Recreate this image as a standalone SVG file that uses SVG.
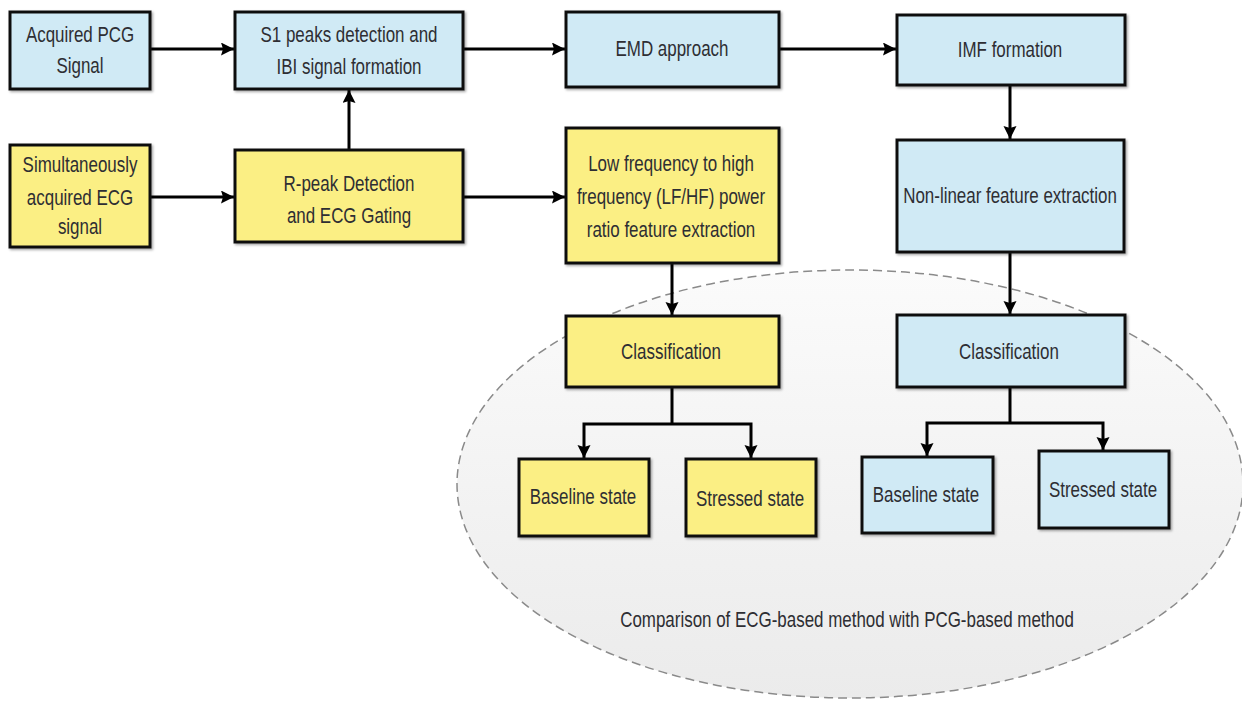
<svg xmlns="http://www.w3.org/2000/svg" width="1242" height="701" viewBox="0 0 1242 701">
<style>
.box{stroke:#111;stroke-width:3}
.blue{fill:#d0eaf5}
.yel{fill:#fbef84}
text{font-family:"Liberation Sans",Arial,sans-serif;font-size:22px;fill:#2e2e33;text-anchor:middle}
.con{stroke:#000;stroke-width:3;fill:none}
</style>
<defs>
<marker id="ah" markerUnits="userSpaceOnUse" markerWidth="16" markerHeight="14" refX="13" refY="6.5" orient="auto">
<path d="M0,0 L13,6.5 L0,13 L2,6.5 z" fill="#000"/>
</marker>
<linearGradient id="eg" x1="0" y1="0" x2="0" y2="1">
<stop offset="0" stop-color="#fbfbfb"/>
<stop offset="1" stop-color="#ebebeb"/>
</linearGradient>
<filter id="sh" x="-10%" y="-10%" width="130%" height="130%">
<feDropShadow dx="1.5" dy="1.5" stdDeviation="1" flood-color="#000" flood-opacity="0.35"/>
</filter>
</defs>
<rect width="1242" height="701" fill="#fff"/>
<g id="comparison-region">
<ellipse cx="850" cy="484" rx="393" ry="214" fill="url(#eg)" stroke="#8a8a8a" stroke-width="1.5" stroke-dasharray="9,5"/>
<text transform="translate(847,627) scale(0.77,1)">Comparison of ECG-based method with PCG-based method</text>
</g>
<g id="connectors">
<line class="con" x1="150" y1="49" x2="234" y2="49" marker-end="url(#ah)"/>
<line class="con" x1="150" y1="197" x2="234" y2="197" marker-end="url(#ah)"/>
<line class="con" x1="349" y1="150" x2="349" y2="90" marker-end="url(#ah)"/>
<line class="con" x1="463" y1="49" x2="565" y2="49" marker-end="url(#ah)"/>
<line class="con" x1="779" y1="49" x2="896" y2="49" marker-end="url(#ah)"/>
<line class="con" x1="463" y1="197" x2="565" y2="197" marker-end="url(#ah)"/>
<line class="con" x1="1010" y1="85" x2="1010" y2="139" marker-end="url(#ah)"/>
<line class="con" x1="672" y1="263" x2="672" y2="315" marker-end="url(#ah)"/>
<line class="con" x1="1010" y1="252" x2="1010" y2="314" marker-end="url(#ah)"/>
<path class="con" d="M672,387 V424"/>
<path class="con" d="M672,424 H584 V458" marker-end="url(#ah)"/>
<path class="con" d="M672,424 H751 V458" marker-end="url(#ah)"/>
<path class="con" d="M1010,387 V423"/>
<path class="con" d="M1010,423 H927 V456" marker-end="url(#ah)"/>
<path class="con" d="M1010,423 H1103 V450" marker-end="url(#ah)"/>
</g>
<g id="acquired-pcg">
<rect class="box blue" x="10" y="12" width="140" height="77" filter="url(#sh)"/>
<text transform="translate(80,42) scale(0.77,1)">Acquired PCG</text>
<text transform="translate(80,73) scale(0.77,1)">Signal</text>
</g>
<g id="s1-peaks">
<rect class="box blue" x="235" y="12" width="228" height="77" filter="url(#sh)"/>
<text transform="translate(349,42) scale(0.77,1)">S1 peaks detection and</text>
<text transform="translate(349,74) scale(0.77,1)">IBI signal formation</text>
</g>
<g id="ecg-acquired">
<rect class="box yel" x="10" y="145" width="140" height="102" filter="url(#sh)"/>
<text transform="translate(80,172) scale(0.77,1)">Simultaneously</text>
<text transform="translate(80,205) scale(0.77,1)">acquired ECG</text>
<text transform="translate(80,234) scale(0.77,1)">signal</text>
</g>
<g id="r-peak">
<rect class="box yel" x="235" y="150" width="228" height="92" filter="url(#sh)"/>
<text transform="translate(349,191) scale(0.77,1)">R-peak Detection</text>
<text transform="translate(349,223) scale(0.77,1)">and ECG Gating</text>
</g>
<g id="emd">
<rect class="box blue" x="566" y="12" width="213" height="75" filter="url(#sh)"/>
<text transform="translate(672,56) scale(0.77,1)">EMD approach</text>
</g>
<g id="lfhf">
<rect class="box yel" x="566" y="128" width="213" height="135" filter="url(#sh)"/>
<text transform="translate(671,171) scale(0.77,1)">Low frequency to high</text>
<text transform="translate(671,204) scale(0.77,1)">frequency (LF/HF) power</text>
<text transform="translate(671,237) scale(0.77,1)">ratio feature extraction</text>
</g>
<g id="imf">
<rect class="box blue" x="897" y="15" width="228" height="70" filter="url(#sh)"/>
<text transform="translate(1010,57) scale(0.77,1)">IMF formation</text>
</g>
<g id="nonlinear">
<rect class="box blue" x="897" y="140" width="227" height="112" filter="url(#sh)"/>
<text transform="translate(1010,203) scale(0.77,1)">Non-linear feature extraction</text>
</g>
<g id="class-ecg">
<rect class="box yel" x="566" y="316" width="213" height="71" filter="url(#sh)"/>
<text transform="translate(671,359) scale(0.77,1)">Classification</text>
</g>
<g id="baseline-ecg">
<rect class="box yel" x="519" y="459" width="130" height="77" filter="url(#sh)"/>
<text transform="translate(583,504) scale(0.77,1)">Baseline state</text>
</g>
<g id="stressed-ecg">
<rect class="box yel" x="686" y="459" width="130" height="77" filter="url(#sh)"/>
<text transform="translate(750,506) scale(0.77,1)">Stressed state</text>
</g>
<g id="class-pcg">
<rect class="box blue" x="897" y="315" width="228" height="72" filter="url(#sh)"/>
<text transform="translate(1009,359) scale(0.77,1)">Classification</text>
</g>
<g id="baseline-pcg">
<rect class="box blue" x="862" y="457" width="131" height="76" filter="url(#sh)"/>
<text transform="translate(926,502) scale(0.77,1)">Baseline state</text>
</g>
<g id="stressed-pcg">
<rect class="box blue" x="1039" y="451" width="130" height="77" filter="url(#sh)"/>
<text transform="translate(1103,497) scale(0.77,1)">Stressed state</text>
</g>
</svg>
